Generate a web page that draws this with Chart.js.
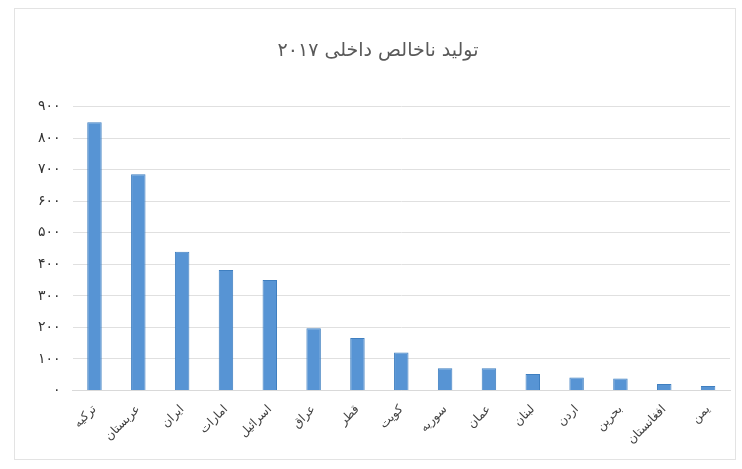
<!DOCTYPE html>
<html><head><meta charset="utf-8">
<script src="https://cdn.jsdelivr.net/npm/chart.js@4"></script>
<style>
html,body{margin:0;padding:0;background:#fff;}
#wrap{position:relative;width:742px;height:469px;}
#frame{position:absolute;left:14px;top:8px;width:722px;height:452px;border:1px solid #e3e3e3;box-sizing:border-box;pointer-events:none;}
</style></head><body>
<div id="wrap"><canvas id="c" width="742" height="469"></canvas><div id="frame"></div></div>
<script>
const categories = ["ترکیه","عربستان","ایران","امارات","اسرائیل","عراق","قطر","کویت","سوریه","عمان","لبنان","اردن","بحرین","افغانستان","یمن"];
const gdp2017 = [851, 686, 440, 382, 350, 197, 166, 120, 70, 70, 52, 41, 38, 20, 14];
const yTickLabels = ["۰","۱۰۰","۲۰۰","۳۰۰","۴۰۰","۵۰۰","۶۰۰","۷۰۰","۸۰۰","۹۰۰"];
const titleText = "تولید ناخالص داخلی ۲۰۱۷";

const ctx = document.getElementById('c').getContext('2d');

new Chart(ctx, {
  type: 'bar',
  data: {
    labels: categories,
    datasets: [{
      data: gdp2017,
      backgroundColor: '#5794d4',
      borderColor: '#3f7fc0',
      borderWidth: 1,
      barPercentage: 0.66,
      categoryPercentage: 0.5
    }]
  },
  options: {
    responsive: false,
    animation: false,
    layout: { padding: { left: 26, right: 12, top: 6, bottom: 18 } },
    plugins: {
      legend: { display: false },
      tooltip: { enabled: false },
      title: {
        display: true,
        text: titleText,
        color: '#595959',
        font: { family: 'DejaVu Sans', size: 19, weight: 'normal' },
        padding: { top: 34, bottom: 44 }
      }
    },
    scales: {
      x: {
        grid: { display: false },
        border: { color: '#d9d9d9' },
        ticks: {
          color: '#404040',
          font: { family: 'DejaVu Sans', size: 12 },
          minRotation: 45, maxRotation: 45,
          padding: 4
        }
      },
      y: {
        min: 0, max: 900,
        border: { display: false },
        grid: { color: '#e0e0e0', drawTicks: false },
        ticks: {
          stepSize: 100,
          color: '#333',
          padding: 12,
          font: { family: 'DejaVu Sans', size: 14 },
          callback: (v) => yTickLabels[Math.round(v / 100)]
        }
      }
    }
  }
});
</script>
</body></html>
